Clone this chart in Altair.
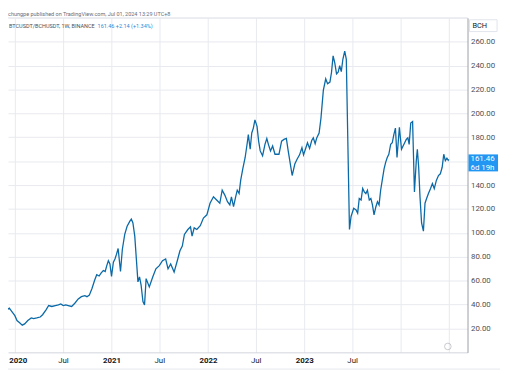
import altair as alt
import pandas as pd

dates = [
    "2019-11-21", "2019-12-01", "2019-12-11", "2019-12-20", "2020-01-01", "2020-01-09",
    "2020-01-19", "2020-01-29", "2020-02-07", "2020-02-19", "2020-03-03", "2020-03-12",
    "2020-03-24", "2020-04-06", "2020-04-15", "2020-04-28", "2020-05-08", "2020-05-20",
    "2020-06-02", "2020-06-14", "2020-06-23", "2020-07-02", "2020-07-12", "2020-07-21",
    "2020-08-03", "2020-08-15", "2020-08-28", "2020-09-09", "2020-09-22", "2020-09-30",
    "2020-10-09", "2020-10-19", "2020-10-29", "2020-11-06", "2020-11-15", "2020-11-23",
    "2020-12-01", "2020-12-08", "2020-12-14", "2020-12-20", "2020-12-26", "2021-01-01",
    "2021-01-08", "2021-01-14", "2021-01-20", "2021-01-26", "2021-02-04", "2021-02-11",
    "2021-02-20", "2021-03-01", "2021-03-11", "2021-03-17", "2021-03-23", "2021-03-30",
    "2021-04-05", "2021-04-11", "2021-04-17", "2021-04-23", "2021-04-30", "2021-05-06",
    "2021-05-12", "2021-05-24", "2021-06-06", "2021-06-18", "2021-07-01", "2021-07-13",
    "2021-07-25", "2021-08-03", "2021-08-13", "2021-08-26", "2021-09-07", "2021-09-17",
    "2021-09-26", "2021-10-04", "2021-10-17", "2021-10-27", "2021-11-02", "2021-11-10",
    "2021-11-20", "2021-12-03", "2021-12-15", "2021-12-28", "2022-01-09", "2022-01-22",
    "2022-02-03", "2022-02-15", "2022-02-24", "2022-03-06", "2022-03-16", "2022-03-25",
    "2022-03-31", "2022-04-08", "2022-04-16", "2022-04-22", "2022-04-29", "2022-05-05",
    "2022-05-13", "2022-05-22", "2022-05-30", "2022-06-03", "2022-06-10", "2022-06-16",
    "2022-06-22", "2022-06-28", "2022-07-06", "2022-07-12", "2022-07-18", "2022-07-27",
    "2022-08-05", "2022-08-12", "2022-08-18", "2022-08-26", "2022-09-03", "2022-09-12",
    "2022-09-27", "2022-10-07", "2022-10-16", "2022-10-25", "2022-11-01", "2022-11-10",
    "2022-11-16", "2022-11-26", "2022-12-05", "2022-12-14", "2022-12-23", "2022-12-29",
    "2023-01-07", "2023-01-13", "2023-01-21", "2023-01-29", "2023-02-04", "2023-02-11",
    "2023-02-17", "2023-02-26", "2023-03-05", "2023-03-14", "2023-03-23", "2023-03-30",
    "2023-04-08", "2023-04-14", "2023-04-20", "2023-04-26", "2023-05-03", "2023-05-09",
    "2023-05-15", "2023-05-21", "2023-05-27", "2023-06-03", "2023-06-09", "2023-06-21",
    "2023-06-27", "2023-07-07", "2023-07-16", "2023-07-22", "2023-07-28", "2023-08-04",
    "2023-08-10", "2023-08-16", "2023-08-22", "2023-08-28", "2023-09-04", "2023-09-10",
    "2023-09-16", "2023-09-22", "2023-09-29", "2023-10-05", "2023-10-11", "2023-10-17",
    "2023-10-23", "2023-10-30", "2023-11-05", "2023-11-11", "2023-11-17", "2023-11-24",
    "2023-11-30", "2023-12-06", "2023-12-12", "2023-12-18", "2023-12-27", "2024-01-04",
    "2024-01-10", "2024-01-16", "2024-01-22", "2024-01-28", "2024-02-02", "2024-02-08",
    "2024-02-15", "2024-02-22", "2024-02-29", "2024-03-04", "2024-03-09", "2024-03-14",
    "2024-03-20", "2024-03-27", "2024-04-02", "2024-04-08", "2024-04-15", "2024-04-23",
    "2024-04-30", "2024-05-07", "2024-05-15", "2024-05-23", "2024-05-30", "2024-06-06",
    "2024-06-12", "2024-06-18", "2024-06-24", "2024-06-29", "2024-07-01",
]

values = [
    34.8, 35.6, 37.0, 34.3, 30.7, 26.6,
    24.7, 22.8, 23.8, 26.6, 28.8, 28.2,
    28.8, 29.6, 31.5, 35.6, 39.2, 38.4,
    39.2, 39.7, 40.5, 39.2, 39.7, 39.2,
    38.4, 41.1, 44.7, 46.6, 47.5, 46.6,
    47.9, 53.5, 60.3, 65.0, 63.9, 66.6,
    68.5, 67.7, 72.6, 76.7, 74.0, 63.6,
    75.4, 78.1, 82.2, 86.9, 67.7, 86.3,
    98.7, 105.5, 109.6, 111.6, 108.3, 97.3,
    78.1, 59.0, 63.1, 56.2, 42.5, 39.7,
    61.7, 54.8, 63.1, 69.9, 72.6, 76.7,
    78.1, 69.9, 74.0, 67.2, 76.7, 85.0,
    89.0, 98.7, 102.8, 105.0, 97.3, 104.2,
    102.8, 106.0, 112.4, 115.1, 124.8, 130.2,
    127.5, 124.8, 135.7, 131.6, 126.1, 123.4,
    130.2, 122.0, 130.2, 135.7, 132.9, 143.9,
    153.5, 163.1, 175.4, 182.3, 170.0, 183.6,
    187.7, 194.6, 189.1, 176.8, 168.6, 164.5,
    174.1, 179.0, 174.1, 168.6, 172.7, 165.8,
    165.8, 176.8, 178.2, 179.0, 168.6, 156.3,
    148.0, 157.6, 161.8, 165.3, 171.3, 165.3,
    171.3, 175.4, 170.7, 177.3, 179.5, 174.6,
    179.5, 183.6, 195.9, 219.3, 228.9, 224.8,
    226.2, 234.4, 248.1, 242.6, 233.0, 234.4,
    239.9, 235.0, 245.3, 252.2, 245.3, 102.8,
    113.7, 120.6, 119.2, 116.5, 128.8, 127.5,
    137.1, 134.3, 132.9, 135.7, 127.5, 128.8,
    123.4, 115.1, 121.9, 126.1, 123.4, 135.7,
    143.9, 153.5, 159.0, 163.1, 165.8, 174.1,
    175.4, 182.3, 187.7, 163.1, 188.3, 170.0,
    172.7, 175.4, 178.2, 179.5, 174.1, 191.9,
    193.2, 134.3, 160.4, 170.0, 154.9, 130.2,
    108.3, 101.4, 124.8, 128.8, 132.9, 137.1,
    141.2, 137.1, 143.9, 148.0, 149.4, 154.9,
    165.8, 160.4, 162.5, 160.8, 161.46,
]

y_ticks = [20, 40, 60, 80, 100, 120, 140, 160, 180, 200, 220, 240, 260, 280]
tick_years = [2020, 2021, 2022, 2023, 2024]
header_top = "chungpe published on TradingView.com, Jul 01, 2024 13:29 UTC+8"
header_symbol = "BTCUSDT/BCHUSDT, 1W, BINANCE"
header_quote = "161.46  +2.14 (+1.34%)"
last_price = 161.46
countdown = "6d 19h"
currency = "BCH"

W, H = 467, 340
FONT = "Roboto"
LINE_COLOR = "#0a69a6"
BLUE = "#2196f3"
GRID = "#e8eaef"

df = pd.DataFrame({"date": dates, "value": values})

x_values = []
for yr in tick_years:
    x_values.append(alt.DateTime(year=yr, month=1, date=1, utc=True))
    x_values.append(alt.DateTime(year=yr, month=7, date=1, utc=True))

x_scale = alt.Scale(
    type="utc",
    domain=[alt.DateTime(year=2019, month=12, date=6, utc=True),
            alt.DateTime(year=2024, month=9, date=10, utc=True)],
)
y_scale = alt.Scale(domain=[0, 280], nice=False, zero=True)

is_jan = "utcFormat(datum.value, '%m') == '01'"
is_first = "utcFormat(datum.value, '%Y-%m') == '2020-01'"
x_axis = alt.Axis(
    values=x_values,
    title=None,
    labelExpr=(
        "utcFormat(datum.value, '%Y') >= '2024' ? '' : "
        "(utcFormat(datum.value, '%m') == '01' ? utcFormat(datum.value, '%Y') : 'Jul')"
    ),
    labelFontWeight=alt.condition(is_jan, alt.value("bold"), alt.value("normal")),
    labelOffset=alt.condition(is_first, alt.value(3), alt.value(0)),
    labelFont=FONT,
    labelFontSize=8,
    labelColor="#131722",
    labelPadding=4,
    ticks=False,
    domain=True,
    domainColor="#d1d4dc",
    grid=True,
    gridColor=GRID,
    labelOverlap=False,
    labelFlush=False,
    labelBound=False,
)

y_axis = alt.Axis(
    orient="right",
    values=y_ticks,
    title=None,
    format=".2f",
    labelExpr="(datum.value == 160 || datum.value == 280) ? '' : format(datum.value, '.2f')",
    labelFont=FONT,
    labelFontSize=8,
    labelColor="#4c4f58",
    labelPadding=3,
    ticks=False,
    domain=True,
    domainColor="#9a9da6",
    grid=True,
    gridColor=GRID,
    labelOverlap=False,
)

line = alt.Chart(df).mark_line(color=LINE_COLOR, strokeWidth=1.3, clip=True).encode(
    x=alt.X("date:T", scale=x_scale, axis=x_axis),
    y=alt.Y("value:Q", scale=y_scale, axis=y_axis),
)

ann = pd.DataFrame({"price": [last_price]})

price_box = alt.Chart(ann).mark_rect(color=BLUE).encode(
    x=alt.value(W + 1),
    x2=alt.value(W + 31),
    y=alt.Y("top:Q", scale=y_scale, axis=y_axis),
    y2="bottom:Q",
).transform_calculate(top="datum.price + 4.2", bottom="datum.price - 10")

price_txt = alt.Chart(ann).mark_text(
    align="left", baseline="middle", color="white", font=FONT, fontSize=8
).encode(
    x=alt.value(W + 3),
    y=alt.Y("price:Q", scale=y_scale, axis=y_axis),
    text=alt.Text("price:Q", format=".2f"),
)

count_txt = alt.Chart(ann).mark_text(
    align="left", baseline="middle", color="white", font=FONT, fontSize=8, dy=9
).encode(
    x=alt.value(W + 3),
    y=alt.Y("price:Q", scale=y_scale, axis=y_axis),
    text=alt.value(countdown),
)

cur_box = alt.Chart(ann).mark_rect(fill="white", stroke="#e0e3eb", strokeWidth=1).encode(
    x=alt.value(W + 2),
    x2=alt.value(W + 30),
    y=alt.value(2),
    y2=alt.value(14),
)
cur_txt = alt.Chart(ann).mark_text(
    align="left", baseline="middle", color="#131722", font=FONT, fontSize=7.5
).encode(x=alt.value(W + 5), y=alt.value(8), text=alt.value(currency))

top_txt = alt.Chart(ann).mark_text(
    align="left", baseline="middle", color="#6a6d78", font=FONT, fontSize=5.6
).encode(x=alt.value(0), y=alt.value(-4), text=alt.value(header_top))

sym_txt = alt.Chart(ann).mark_text(
    align="left", baseline="middle", color="#4c4f58", font=FONT, fontSize=5.6
).encode(x=alt.value(1), y=alt.value(8), text=alt.value(header_symbol))

quote_txt = alt.Chart(ann).mark_text(
    align="left", baseline="middle", color="#2a8ad8", font=FONT, fontSize=5.6
).encode(x=alt.value(91), y=alt.value(8), text=alt.value(header_quote))

top_rule = alt.Chart(ann).mark_rule(color="#e6e8ee", strokeWidth=1).encode(
    x=alt.value(0), x2=alt.value(W), y=alt.value(0)
)
bottom_rule = alt.Chart(ann).mark_rule(color="#e6e8ee", strokeWidth=1).encode(
    x=alt.value(0), x2=alt.value(W + 33), y=alt.value(H + 17)
)

icon = alt.Chart(ann).mark_point(
    shape="circle", size=45, filled=False, color="#a0a3ac", strokeWidth=0.8
).encode(x=alt.value(W - 20), y=alt.value(H - 6))

chart = alt.layer(
    line, top_rule, bottom_rule, icon, price_box, price_txt, count_txt,
    cur_box, cur_txt, top_txt, sym_txt, quote_txt,
).properties(
    width=W,
    height=H,
    autosize=alt.AutoSizeParams(type="none"),
    padding={"left": 0, "top": 7, "right": 33, "bottom": 17},
    background="white",
).configure_view(stroke=None)

chart.save("out.html", embed_options={"renderer": "svg", "actions": False})
